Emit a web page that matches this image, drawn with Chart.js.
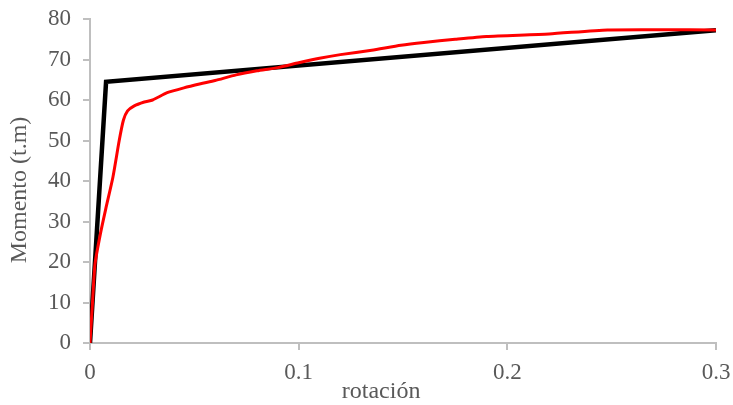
<!DOCTYPE html>
<html>
<head>
<meta charset="utf-8">
<script src="https://cdn.jsdelivr.net/npm/chart.js@4"></script>
<style>
  html, body { margin: 0; padding: 0; background: #fff; }
  #wrap { width: 733px; height: 405px; }
</style>
</head>
<body>
<div id="wrap"><canvas id="chart"></canvas></div>
<script>
// curva momento-rotación (roja)
const rotCurva = [0, 0.0012, 0.0024, 0.005, 0.0075, 0.011, 0.014, 0.016, 0.018, 0.021, 0.026, 0.03, 0.037, 0.045, 0.053, 0.06, 0.07, 0.08, 0.09, 0.1, 0.11, 0.12, 0.135, 0.149, 0.16, 0.175, 0.19, 0.22, 0.248, 0.3];
const momCurva = [0, 10, 19.5, 27, 33, 41, 50, 55, 57.3, 58.5, 59.5, 60, 61.8, 63, 64, 64.8, 66.2, 67.2, 68, 69.2, 70.3, 71.2, 72.3, 73.5, 74.2, 75, 75.7, 76.3, 77.3, 77.3];

// idealización bilineal (negra)
const rotBilineal = [0, 0.0077, 0.3];
const momBilineal = [0, 64.5, 77.2];

const xTicks = [0, 0.1, 0.2, 0.3];
const tituloX = "rotación";
const tituloY = "Momento (t.m)";

const toPts = (xs, ys) => xs.map((x, i) => ({ x, y: ys[i] }));

const gris = "#bfbfbf";
const texto = "#595959";
const familia = "'Liberation Serif', 'Times New Roman', serif";
const fuente = { family: familia, size: 23 };

// los títulos de Excel no quedan centrados en el área del gráfico, así que se dibujan a mano
const titulos = {
    id: "titulos",
    afterDraw(chart) {
        const { ctx, chartArea } = chart;
        ctx.save();
        ctx.fillStyle = texto;
        ctx.font = `24px ${familia}`;
        ctx.textAlign = "center";
        ctx.textBaseline = "middle";
        ctx.fillText(tituloX, chartArea.left + (chartArea.right - chartArea.left) * 0.465, 392);
        ctx.translate(20, (chartArea.top + chartArea.bottom) / 2 + 9);
        ctx.rotate(-Math.PI / 2);
        ctx.fillText(tituloY, 0, 0);
        ctx.restore();
    }
};

new Chart(document.getElementById("chart"), {
    type: "scatter",
    data: {
        datasets: [
            {
                data: toPts(rotCurva, momCurva),
                showLine: true,
                borderColor: "#ff0000",
                borderWidth: 3,
                pointRadius: 0,
                tension: 0.2,
                fill: false,
            },
            {
                data: toPts(rotBilineal, momBilineal),
                showLine: true,
                borderColor: "#000000",
                borderWidth: 4.5,
                pointRadius: 0,
                tension: 0,
                fill: false,
            }
        ]
    },
    plugins: [titulos],
    options: {
        responsive: true,
        maintainAspectRatio: false,
        animation: false,
        layout: { padding: { top: 19, right: 17, left: 0, bottom: 0 } },
        plugins: { legend: { display: false }, tooltip: { enabled: false } },
        scales: {
            x: {
                type: "linear",
                min: 0,
                max: 0.3,
                afterBuildTicks: (axis) => { axis.ticks = xTicks.map(v => ({ value: v })); },
                afterFit: (axis) => { axis.height = 62; axis.paddingLeft = 0; axis.paddingRight = 0; },
                grid: { drawOnChartArea: false, drawTicks: true, tickLength: 7, color: gris, lineWidth: 2 },
                border: { color: gris, width: 2 },
                ticks: { color: texto, font: fuente, padding: 9, maxRotation: 0, callback: v => String(v) },
                title: { display: false },
            },
            y: {
                min: 0,
                max: 80,
                afterFit: (axis) => { axis.width = 90; axis.paddingTop = 0; axis.paddingBottom = 0; },
                grid: { drawOnChartArea: false, drawTicks: true, tickLength: 7, color: gris, lineWidth: 2 },
                border: { color: gris, width: 2 },
                ticks: { stepSize: 10, color: texto, font: fuente, padding: 12 },
                title: { display: false },
            }
        }
    }
});
</script>
</body>
</html>
